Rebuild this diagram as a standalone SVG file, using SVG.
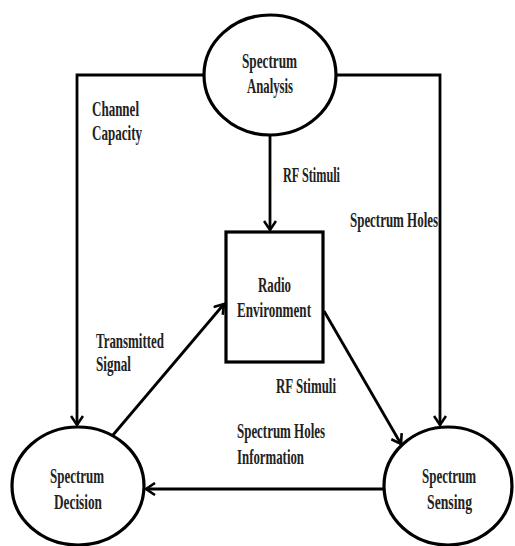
<svg xmlns="http://www.w3.org/2000/svg" width="515" height="546" viewBox="0 0 515 546">
<defs>
<marker id="arr" markerWidth="14" markerHeight="14" refX="11" refY="7" orient="auto" markerUnits="userSpaceOnUse">
<path d="M2,1 L11,7 L2,13" fill="none" stroke="#000" stroke-width="2.6"/>
</marker>
<style>
.node{fill:#fff;stroke:#000;stroke-width:3.2}
.edge{fill:none;stroke:#000;stroke-width:2.8}
text{font-family:"Liberation Serif","Times New Roman",serif;font-weight:bold;font-size:21px;fill:#222}
</style>
</defs>
<rect width="515" height="546" fill="#fff"/>
<g id="connectors">
<polyline class="edge" points="204,75 77,75 77,425" marker-end="url(#arr)"/>
<polyline class="edge" points="336,75 440,75 440,425" marker-end="url(#arr)"/>
<line class="edge" x1="270" y1="135" x2="270" y2="230" marker-end="url(#arr)"/>
<line class="edge" x1="113" y1="435" x2="224" y2="304" marker-end="url(#arr)"/>
<line class="edge" x1="324" y1="311" x2="401" y2="444" marker-end="url(#arr)"/>
<line class="edge" x1="383" y1="489" x2="146" y2="489" marker-end="url(#arr)"/>
</g>
<g id="labels">
<text x="92" y="116" textLength="47" lengthAdjust="spacingAndGlyphs">Channel</text>
<text x="92" y="140" textLength="50" lengthAdjust="spacingAndGlyphs">Capacity</text>
<text x="283" y="182" textLength="57" lengthAdjust="spacingAndGlyphs">RF Stimuli</text>
<text x="350" y="227" textLength="88" lengthAdjust="spacingAndGlyphs">Spectrum Holes</text>
<text x="96" y="348" textLength="68" lengthAdjust="spacingAndGlyphs">Transmitted</text>
<text x="96" y="371" textLength="35" lengthAdjust="spacingAndGlyphs">Signal</text>
<text x="276" y="393" textLength="60" lengthAdjust="spacingAndGlyphs">RF Stimuli</text>
<text x="237" y="438" textLength="88" lengthAdjust="spacingAndGlyphs">Spectrum Holes</text>
<text x="237" y="464" textLength="67" lengthAdjust="spacingAndGlyphs">Information</text>
</g>
<g id="spectrum-analysis">
<ellipse class="node" cx="270" cy="75" rx="66" ry="60"/>
<text x="242" y="68" textLength="55" lengthAdjust="spacingAndGlyphs">Spectrum</text>
<text x="247" y="93" textLength="46" lengthAdjust="spacingAndGlyphs">Analysis</text>
</g>
<g id="radio-environment">
<rect class="node" x="226" y="232" width="97" height="130"/>
<text x="258" y="292" textLength="33" lengthAdjust="spacingAndGlyphs">Radio</text>
<text x="237" y="317" textLength="74" lengthAdjust="spacingAndGlyphs">Environment</text>
</g>
<g id="spectrum-decision">
<ellipse class="node" cx="78" cy="486" rx="66" ry="59"/>
<text x="50" y="483" textLength="54" lengthAdjust="spacingAndGlyphs">Spectrum</text>
<text x="54" y="509" textLength="48" lengthAdjust="spacingAndGlyphs">Decision</text>
</g>
<g id="spectrum-sensing">
<ellipse class="node" cx="448" cy="486" rx="64" ry="59"/>
<text x="422" y="483" textLength="54" lengthAdjust="spacingAndGlyphs">Spectrum</text>
<text x="427" y="509" textLength="45" lengthAdjust="spacingAndGlyphs">Sensing</text>
</g>
</svg>
